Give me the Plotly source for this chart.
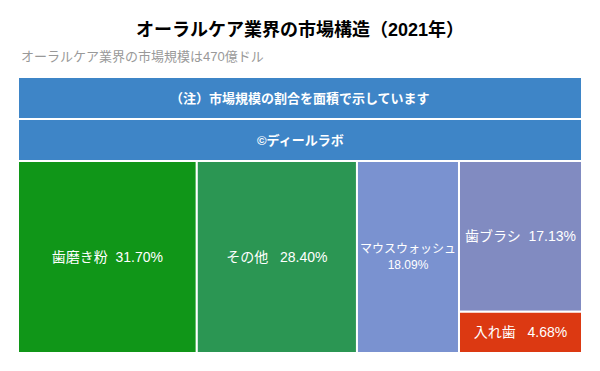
import plotly.graph_objects as go

root_label = "（注）市場規模の割合を面積で示しています"
mid_label = "©ディールラボ"
categories = ["歯磨き粉", "その他", "マウスウォッシュ", "歯ブラシ", "入れ歯"]
shares = [31.70, 28.40, 18.09, 17.13, 4.68]
leaf_colors = ["#109618", "#2b9653", "#7a92d0", "#818bc1", "#dc3912"]
header_color = "#3e85c7"
leaf_templates = [
    "%{label}\u00a0\u00a0%{value:.2f}%",
    "%{label}\u00a0\u00a0\u00a0%{value:.2f}%",
    "%{label}<br>%{value:.2f}%",
    "%{label}\u00a0\u00a0%{value:.2f}%",
    "%{label}\u00a0\u00a0\u00a0%{value:.2f}%",
]

labels = [root_label, mid_label] + categories
parents = ["", root_label] + [mid_label] * len(categories)
values = [0, 0] + shares
colors = [header_color, header_color] + leaf_colors
# header labels are drawn as centred annotations; the built-in ones are blanked
templates = ["\u200b", "\u200b"] + leaf_templates
text_colors = ["rgba(0,0,0,0)", "rgba(0,0,0,0)"] + ["white"] * len(categories)
text_sizes = [1, 1] + [14] * len(categories)

FONT = "Liberation Sans, Arial, Noto Sans CJK JP"

# figure sized to the viewport minus the page's default 8px body margin
W, H = 592, 363
ML, MR, MT, MB = 10, 18, 69, 18
PH = H - MT - MB

fig = go.Figure(go.Treemap(
    labels=labels,
    parents=parents,
    values=values,
    branchvalues="remainder",
    sort=True,
    marker=dict(colors=colors, line=dict(width=2, color="white"),
                pad=dict(t=42, l=0, r=0, b=0)),
    tiling=dict(pad=0),
    texttemplate=templates,
    textposition="middle center",
    textfont=dict(color=text_colors, size=text_sizes, family=FONT),
    pathbar=dict(visible=False),
    hoverinfo="skip",
))

fig.update_layout(
    width=W, height=H,
    margin=dict(l=ML, r=MR, t=MT, b=MB),
    paper_bgcolor="white",
    font=dict(family=FONT),
    title=dict(text="<b>オーラルケア業界の市場構造（2021年）</b>",
               x=292 / W, xanchor="center", y=1 - 22 / H, yanchor="middle",
               font=dict(size=18, color="black")),
    annotations=[
        dict(text="オーラルケア業界の市場規模は470億ドル",
             xref="paper", yref="paper", x=1 / (W - ML - MR), xanchor="left",
             y=1 + 20 / PH, yanchor="middle", showarrow=False,
             font=dict(size=13, color="#999999")),
        dict(text="<b>" + root_label + "</b>",
             xref="paper", yref="paper", x=0.5, xanchor="center",
             y=1 - 21 / PH, yanchor="middle", showarrow=False,
             font=dict(size=13, color="white")),
        dict(text="<b>" + mid_label + "</b>",
             xref="paper", yref="paper", x=0.5, xanchor="center",
             y=1 - 63 / PH, yanchor="middle", showarrow=False,
             font=dict(size=13, color="white")),
    ],
)

fig.write_html("out.html")
